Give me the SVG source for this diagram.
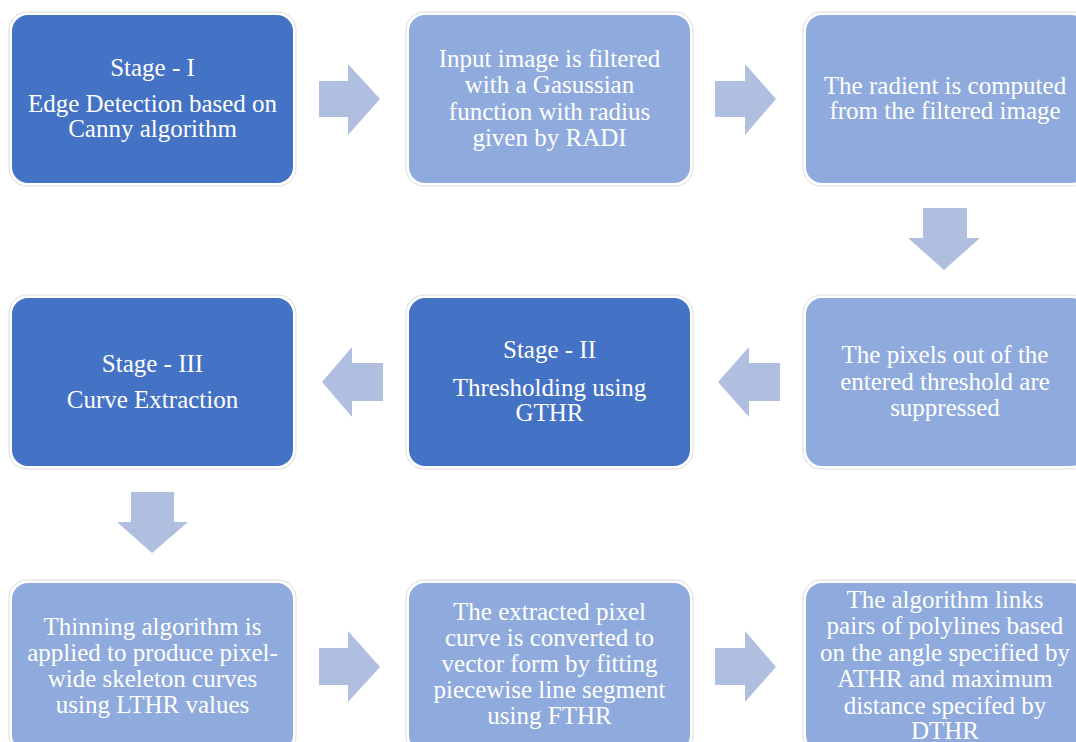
<svg xmlns="http://www.w3.org/2000/svg" width="1076" height="742" viewBox="0 0 1076 742">
<defs>
<style>
.halo{fill:none;stroke:#dcdcdc;stroke-width:1}
.dark{fill:#4472C4;stroke:#ffffff;stroke-width:2}
.light{fill:#8FAADC;stroke:#ffffff;stroke-width:2}
.arrow{fill:#B0BEE0}
.t{font-family:'Liberation Serif','Times New Roman','DejaVu Serif',serif;font-size:25px;fill:#ffffff;text-anchor:middle}
</style>
</defs>
<rect width="1076" height="742" fill="#ffffff"/>

<g id="connectors">
<polygon class="arrow" points="319,81 348,81 348,64 380,99 348,135 348,117 319,117"/>
<polygon class="arrow" points="715,81 745,81 745,64 776,99 745,135 745,117 715,117"/>
<polygon class="arrow" points="923,208 967,208 967,238 980,238 944,270 908,238 923,238"/>
<polygon class="arrow" points="383,363 352,363 352,347 322,382 352,417 352,401 383,401"/>
<polygon class="arrow" points="780,363 749,363 749,347 718,382 749,417 749,401 780,401"/>
<polygon class="arrow" points="131,492 174,492 174,522 188,522 152,553 117,522 131,522"/>
<polygon class="arrow" points="319,648 348,648 348,631 380,667 348,702 348,685 319,685"/>
<polygon class="arrow" points="715,648 745,648 745,631 776,667 745,702 745,685 715,685"/>
</g>

<g id="node-stage1">
<rect class="halo" x="9" y="12" width="287" height="174" rx="18"/>
<rect class="dark" x="11" y="14" width="283" height="170" rx="17"/>
<text class="t" x="152.5" y="76">Stage - I</text>
<text class="t" x="152.5" y="112">Edge Detection based on</text>
<text class="t" x="152.5" y="137">Canny algorithm</text>
</g>

<g id="node-gaussian">
<rect class="halo" x="406" y="12" width="287" height="174" rx="18"/>
<rect class="light" x="408" y="14" width="283" height="170" rx="17"/>
<text class="t" x="549.5" y="67">Input image is filtered</text>
<text class="t" x="549.5" y="93">with a Gasussian</text>
<text class="t" x="549.5" y="120">function with radius</text>
<text class="t" x="549.5" y="146">given by RADI</text>
</g>

<g id="node-gradient">
<rect class="halo" x="803" y="12" width="287" height="174" rx="18"/>
<rect class="light" x="805" y="14" width="283" height="170" rx="17"/>
<text class="t" x="945" y="94">The radient is computed</text>
<text class="t" x="945" y="119">from the filtered image</text>
</g>

<g id="node-suppress">
<rect class="halo" x="803" y="295" width="287" height="174" rx="18"/>
<rect class="light" x="805" y="297" width="283" height="170" rx="17"/>
<text class="t" x="945" y="363">The pixels out of the</text>
<text class="t" x="945" y="390">entered threshold are</text>
<text class="t" x="945" y="416">suppressed</text>
</g>

<g id="node-stage2">
<rect class="halo" x="406" y="295" width="287" height="174" rx="18"/>
<rect class="dark" x="408" y="297" width="283" height="170" rx="17"/>
<text class="t" x="549.5" y="358">Stage - II</text>
<text class="t" x="549.5" y="396">Thresholding using</text>
<text class="t" x="549.5" y="421">GTHR</text>
</g>

<g id="node-stage3">
<rect class="halo" x="9" y="295" width="287" height="174" rx="18"/>
<rect class="dark" x="11" y="297" width="283" height="170" rx="17"/>
<text class="t" x="152.5" y="372">Stage - III</text>
<text class="t" x="152.5" y="408">Curve Extraction</text>
</g>

<g id="node-thinning">
<rect class="halo" x="9" y="580" width="287" height="174" rx="18"/>
<rect class="light" x="11" y="582" width="283" height="170" rx="17"/>
<text class="t" x="152.5" y="635">Thinning algorithm is</text>
<text class="t" x="152.5" y="661">applied to produce pixel-</text>
<text class="t" x="152.5" y="687">wide skeleton curves</text>
<text class="t" x="152.5" y="713">using LTHR values</text>
</g>

<g id="node-vector">
<rect class="halo" x="406" y="580" width="287" height="174" rx="18"/>
<rect class="light" x="408" y="582" width="283" height="170" rx="17"/>
<text class="t" x="549.5" y="620">The extracted pixel</text>
<text class="t" x="549.5" y="646">curve is converted to</text>
<text class="t" x="549.5" y="672">vector form by fitting</text>
<text class="t" x="549.5" y="698">piecewise line segment</text>
<text class="t" x="549.5" y="724">using FTHR</text>
</g>

<g id="node-link">
<rect class="halo" x="803" y="580" width="287" height="174" rx="18"/>
<rect class="light" x="805" y="582" width="283" height="170" rx="17"/>
<text class="t" x="945" y="608">The algorithm links</text>
<text class="t" x="945" y="634">pairs of polylines based</text>
<text class="t" x="945" y="661">on the angle specified by</text>
<text class="t" x="945" y="687">ATHR and maximum</text>
<text class="t" x="945" y="714">distance specifed by</text>
<text class="t" x="945" y="739">DTHR</text>
</g>
</svg>
